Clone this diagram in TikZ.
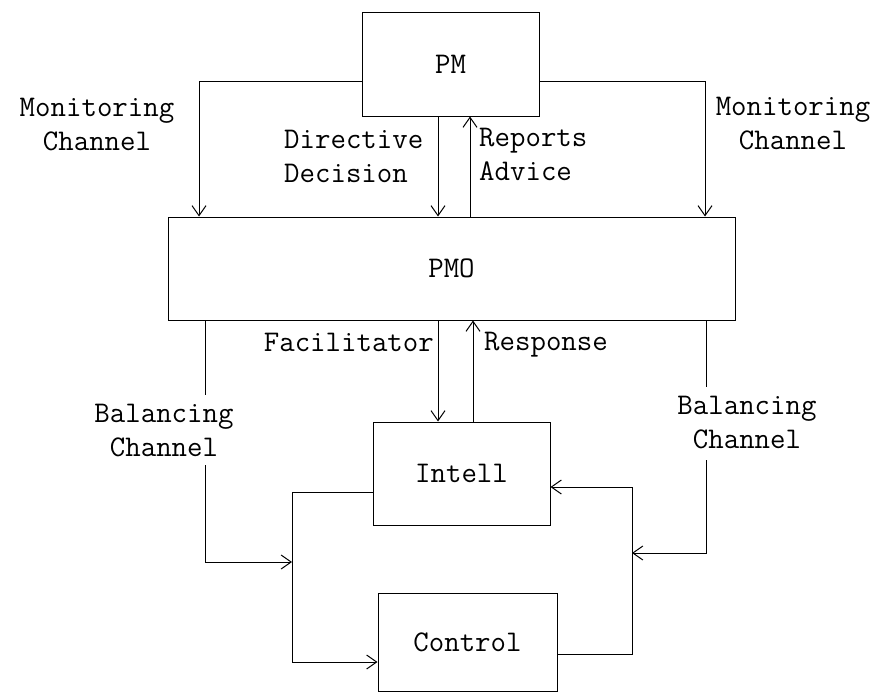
\documentclass[tikz,border=0pt]{standalone}
\usepackage{fontspec}
\usetikzlibrary{arrows.meta}
\begin{document}
\begin{tikzpicture}[x=1pt,y=-1pt,
  txt/.style={font=\ttfamily\fontsize{30}{34}\selectfont},
  box/.style={txt, draw, line width=1pt, inner sep=0pt},
  lbl/.style={txt, inner sep=0pt, align=center},
  conn/.style={line width=1pt},
  arr/.style={conn, -{Straight Barb[length=10pt,width=14pt,line width=1pt]}}]
\useasboundingbox (0,0) rectangle (877,693);

% boxes
\node[box, minimum width=177pt, minimum height=103pt] (PM) at (450.5,64.5) {PM};
\node[box, minimum width=567pt, minimum height=103pt] (PMO) at (451.5,268.5) {PMO};
\node[box, minimum width=177pt, minimum height=103pt] (Intell) at (461.5,473.5) {Intell};
\node[box, minimum width=179pt, minimum height=98pt] (Control) at (467.5,642) {Control};

% helper coordinates
\coordinate (mlx) at (199,0);
\coordinate (mrx) at (705,0);
\coordinate (dx) at (438,0);
\coordinate (rx) at (470,0);
\coordinate (rsx) at (473,0);
\coordinate (blx) at (205,0);
\coordinate (brx) at (706,0);
\coordinate (llx) at (292,0);
\coordinate (rlx) at (632,0);
\coordinate (bl1) at (205,395);
\coordinate (bl2) at (205,465);
\coordinate (bl3) at (205,562);
\coordinate (br1) at (706,387);
\coordinate (br2) at (706,460);
\coordinate (br3) at (706,553);
\coordinate (ll2) at (292,662);
\coordinate (rl2) at (632,487);

% PM <-> PMO
\draw[arr] ([yshift=-16.5pt]PM.west) -| (PMO.north -| mlx);
\draw[arr] ([yshift=-16.5pt]PM.east) -| (PMO.north -| mrx);
\draw[arr] (PM.south -| dx) -- (PMO.north -| dx);
\draw[arr] (PMO.north -| rx) -- (PM.south -| rx);

% PMO <-> Intell
\draw[arr] (PMO.south -| dx) -- (Intell.north -| dx);
\draw[arr] (Intell.north -| rsx) -- (PMO.south -| rsx);

% balancing channels
\draw[conn] (PMO.south -| blx) -- (bl1);
\draw[arr] (bl2) -- (bl3) -- (bl3 -| llx);
\draw[conn] (PMO.south -| brx) -- (br1);
\draw[arr] (br2) -- (br3) -- (br3 -| rlx);

% loops
\draw[arr] ([yshift=-18.5pt]Intell.west) -| (ll2) -- (Control.west |- ll2);
\draw[arr] ([yshift=-12pt]Control.east) -| (rl2) -- (Intell.east |- rl2);

% labels
\node[lbl] (ml) at (97,125) {Monitoring\\Channel};
\node[lbl, align=left, anchor=west] (dd) at (284,156) {Directive\\Decision};
\node[lbl, align=left, anchor=west] (ra) at (479,154) {Reports\\Advice};
\node[lbl] (mr) at (793,124) {Monitoring\\Channel};
\node[lbl, anchor=base east] (fa) at (434,351) {Facilitator};
\node[lbl, anchor=base west] (re) at (484,350) {Response};
\node[lbl] (bl) at (164,431) {Balancing\\Channel};
\node[lbl] (br) at (747,423) {Balancing\\Channel};
\end{tikzpicture}
\end{document}
